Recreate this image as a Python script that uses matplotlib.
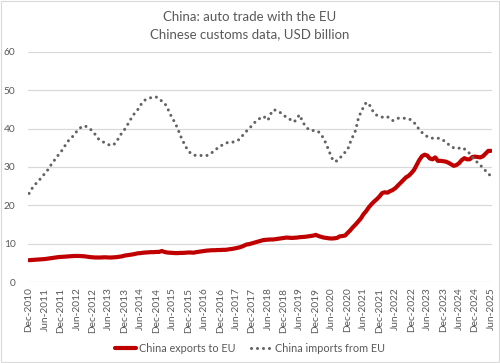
import matplotlib
matplotlib.use("Agg")
import matplotlib.pyplot as plt
from matplotlib.patches import Rectangle

# monthly values, Dec-2010 .. Jun-2025 (USD billion, rolling 12m)
exports_eu = [
    5.7,                                                                  # Dec-2010
    5.75, 5.8, 5.85, 5.9, 5.95, 6.0, 6.1, 6.2, 6.3, 6.4, 6.5, 6.55,       # 2011
    6.6, 6.65, 6.7, 6.75, 6.8, 6.8, 6.8, 6.75, 6.7, 6.6, 6.5, 6.45,       # 2012
    6.4, 6.4, 6.4, 6.45, 6.45, 6.4, 6.4, 6.45, 6.5, 6.6, 6.7, 6.9,        # 2013
    7.0, 7.1, 7.2, 7.35, 7.5, 7.55, 7.65, 7.7, 7.75, 7.8, 7.8, 7.85,      # 2014
    7.85, 8.1, 7.85, 7.7, 7.65, 7.6, 7.55, 7.55, 7.6, 7.6, 7.65, 7.7,     # 2015
    7.7, 7.65, 7.8, 7.9, 8.0, 8.1, 8.2, 8.25, 8.3, 8.3, 8.35, 8.35,       # 2016
    8.4, 8.4, 8.5, 8.6, 8.7, 8.85, 9.0, 9.2, 9.5, 9.8, 9.9, 10.1,         # 2017
    10.3, 10.5, 10.7, 10.9, 11.0, 11.05, 11.1, 11.1, 11.2, 11.3, 11.4, 11.5,  # 2018
    11.6, 11.55, 11.5, 11.55, 11.6, 11.7, 11.75, 11.8, 11.9, 12.0, 12.1, 12.3,  # 2019
    12.0, 11.8, 11.6, 11.5, 11.4, 11.35, 11.4, 11.5, 11.9, 12.0, 12.1, 12.8,  # 2020
    13.5, 14.3, 15.0, 15.8, 16.6, 17.7, 18.5, 19.5, 20.3, 21.0, 21.6, 22.3,  # 2021
    23.2, 23.4, 23.3, 23.7, 24.0, 24.5, 25.2, 25.9, 26.6, 27.3, 27.7, 28.4,  # 2022
    29.2, 30.5, 31.8, 32.8, 33.2, 33.0, 32.2, 32.0, 32.5, 31.6, 31.6, 31.5,  # 2023
    31.4, 31.1, 30.7, 30.3, 30.5, 31.0, 31.8, 32.3, 32.0, 32.0, 32.6, 32.7,  # 2024
    32.6, 32.5, 32.8, 33.5, 34.2, 34.2,                                    # 2025
]
imports_eu = [
    23.1,
    24.3, 25.2, 26.0, 26.7, 27.6, 28.3, 29.2, 30.3, 31.2, 32.2, 33.1, 33.9,
    35.0, 36.0, 37.0, 37.6, 38.4, 39.3, 40.0, 40.6, 40.7, 40.4, 39.9, 39.3,
    38.4, 37.4, 36.9, 36.5, 36.1, 35.8, 35.6, 35.9, 36.6, 37.9, 38.9, 39.8,
    40.9, 42.1, 43.3, 44.2, 45.0, 46.1, 47.1, 47.6, 47.8, 48.1, 48.3, 48.2,
    47.7, 47.2, 46.7, 45.6, 44.0, 42.7, 41.5, 40.0, 38.2, 36.7, 35.3, 34.2,
    33.5, 33.1, 33.0, 33.0, 33.0, 33.0, 33.0, 33.3, 33.8, 34.4, 34.9, 35.4,
    35.8, 36.2, 36.4, 36.5, 36.5, 36.7, 37.1, 37.8, 38.7, 39.4, 40.1, 40.8,
    41.6, 42.2, 42.7, 43.2, 42.9, 42.2, 43.8, 44.9, 44.8, 44.5, 44.0, 43.4,
    43.0, 42.6, 42.0, 41.8, 42.9, 43.6, 41.8, 40.8, 40.0, 39.5, 39.5, 39.5,
    39.2, 38.5, 37.4, 35.9, 34.2, 32.4, 31.4, 31.6, 32.2, 33.1, 33.8, 34.5,
    36.4, 38.0, 39.5, 42.5, 44.3, 45.6, 46.8, 46.5, 45.2, 44.0, 43.5, 43.2,
    43.0, 42.9, 43.1, 42.6, 42.1, 42.5, 42.7, 42.7, 42.7, 42.7, 42.6, 42.2,
    41.6, 40.8, 39.7, 39.0, 38.5, 37.9, 37.6, 37.5, 37.5, 37.5, 37.4, 37.0,
    36.4, 35.9, 35.3, 35.0, 34.8, 34.9, 35.1, 34.7, 34.2, 33.5, 32.6, 31.8,
    31.1, 30.5, 29.7, 29.0, 28.2, 27.7,
]
months = list(range(len(exports_eu)))

# tick labels every 6 months
tick_labels = []
for yr in range(2010, 2026):
    if yr > 2010:
        tick_labels.append(f"Jun-{yr}")
    if yr < 2025:
        tick_labels.append(f"Dec-{yr}")
tick_pos = list(range(0, len(months), 6))

plt.rcParams['font.family'] = ['Lato', 'DejaVu Sans']
txt = '#595959'

fig = plt.figure(figsize=(5.0, 3.63), dpi=100)
fig.patches.append(Rectangle((0.002, 0.003), 0.995, 0.993, transform=fig.transFigure,
                             fill=False, edgecolor='#d9d9d9', linewidth=0.8))
ax = fig.add_axes([0.056, 0.223, 0.928, 0.634])

ax.plot(months, exports_eu, color='#c00000', lw=3.0, solid_capstyle='round',
        label='China exports to EU', zorder=3)
ax.plot(months, imports_eu, color='#636363', lw=2.2, linestyle=(0, (0.01, 1.95)),
        dash_capstyle='round', label='China imports from EU', zorder=3)

ax.set_ylim(0, 60)
ax.set_yticks(range(0, 61, 10))
ax.set_xlim(-0.4, months[-1] + 0.4)
ax.set_xticks(tick_pos)
ax.set_xticklabels(tick_labels, rotation=90)
ax.tick_params(axis='both', length=0, labelsize=7.3, labelcolor=txt)
ax.tick_params(axis='y', pad=9)
ax.tick_params(axis='x', pad=4)
ax.grid(axis='y', color='#d9d9d9', lw=0.9)
ax.set_axisbelow(True)
for s in ax.spines.values():
    s.set_visible(False)

fig.text(0.5, 0.953, 'China: auto trade with the EU', ha='center', va='center',
         fontsize=9.5, color=txt)
fig.text(0.5, 0.905, 'Chinese customs data, USD billion', ha='center', va='center',
         fontsize=9.5, color=txt)

fig.legend(loc='center', bbox_to_anchor=(0.5, 0.04), ncol=2, frameon=False,
           fontsize=7.8, labelcolor=txt, handlelength=2.0, handletextpad=0.25,
           columnspacing=1.4)

fig.savefig('out.png', dpi=100)
